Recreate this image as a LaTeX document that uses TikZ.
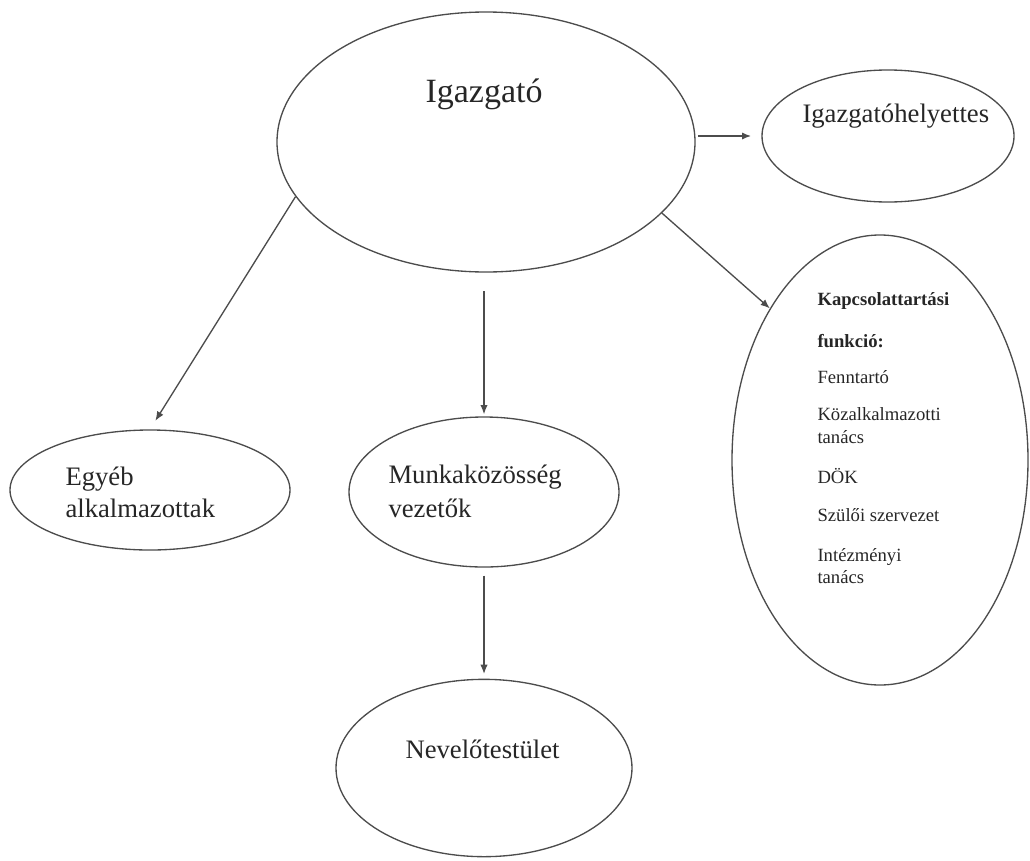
\documentclass[tikz,border=0pt]{standalone}
\usepackage{fontspec}
\setmainfont{Liberation Serif}
\usetikzlibrary{shapes.geometric,arrows.meta}
\tikzset{every picture/.style={line width=0.75pt}}
\tikzset{
oval/.style={draw=black!70, line width=1pt, ellipse, inner sep=0pt},
lbl/.style={anchor=base west, inner sep=0pt, text=black!85, font=\fontsize{20}{24}\selectfont},
small lbl/.style={lbl, font=\fontsize{14}{17}\selectfont},
arr/.style={draw=black!70, line width=1pt, -{Latex[length=7pt,width=5.5pt]}}}

\begin{document}
\begin{tikzpicture}[x=0.75pt,y=0.75pt,yscale=-1,xscale=1]
\useasboundingbox (0,0) rectangle (1030,860);

%Shape: Ellipse
\node[oval, minimum width=313.5pt, minimum height=195pt] (igazgato) at (486,142) {};
%Shape: Ellipse
\node[oval, minimum width=189pt, minimum height=99pt] (helyettes) at (888,136) {};
%Shape: Ellipse
\node[oval, minimum width=222pt, minimum height=337.5pt] (kapcsolat) at (880,460) {};
%Shape: Ellipse
\node[oval, minimum width=210pt, minimum height=90pt] (egyeb) at (150,490) {};
%Shape: Ellipse
\node[oval, minimum width=202.5pt, minimum height=112.5pt] (munka) at (484,492) {};
%Shape: Ellipse
\node[oval, minimum width=222pt, minimum height=133pt] (nevelo) at (484,768) {};

% Text Node
\node[lbl, font=\fontsize{25.5}{30}\selectfont] (tigazgato) at (425,102) {Igazgató};
% Text Node
\node[lbl] (thelyettes) at (802,122) {Igazgatóhelyettes};
% Text Node
\node[lbl] (tegyeb1) at (65,485) {Egyéb};
\node[lbl] (tegyeb2) at (65,517) {alkalmazottak};
% Text Node
\node[lbl] (tmunka1) at (388,483) {Munkaközösség};
\node[lbl] (tmunka2) at (388,517) {vezetők};
% Text Node
\node[lbl] (tnevelo) at (405,758) {Nevelőtestület};
% Text Node
\node[small lbl, font=\fontsize{14}{17}\selectfont\bfseries] (tk1) at (817,305) {Kapcsolattartási};
\node[small lbl, font=\fontsize{14}{17}\selectfont\bfseries] (tk2) at (817,347) {funkció:};
\node[small lbl] (tk3) at (817,383) {Fenntartó};
\node[small lbl] (tk4) at (817,420) {Közalkalmazotti};
\node[small lbl] (tk5) at (817,443) {tanács};
\node[small lbl] (tk6) at (817,483) {DÖK};
\node[small lbl] (tk7) at (817,521) {Szülői szervezet};
\node[small lbl] (tk8) at (817,561) {Intézményi};
\node[small lbl] (tk9) at (817,583) {tanács};

%Straight Lines
\draw[arr, line width=1.4pt, shorten <=2pt, shorten >=7.5pt] (igazgato.east |- helyettes.west) -- (helyettes.west);
%Straight Lines
\draw[arr, shorten >=7.5pt] (igazgato.196) -- (egyeb.north);
%Straight Lines
\draw[arr, shorten <=14pt, shorten >=1.5pt] (igazgato.south -| munka.north) -- (munka.north);
%Straight Lines
\draw[arr] (igazgato.338) -- (kapcsolat.126);
%Straight Lines
\draw[arr, shorten <=6pt, shorten >=3.5pt] (munka.south) -- (nevelo.north);

\end{tikzpicture}
\end{document}
